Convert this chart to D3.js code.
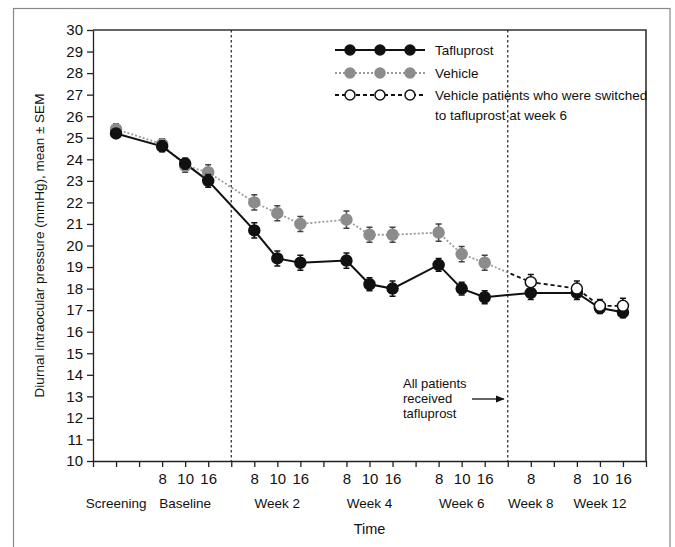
<!DOCTYPE html>
<html>
<head>
<meta charset="utf-8">
<script src="https://cdn.jsdelivr.net/npm/d3@7"></script>
<style>
  body { margin: 0; background: #fff; }
  svg text { font-family: "Liberation Sans", Arial, sans-serif; fill: #111; }
</style>
</head>
<body>
<div id="chart-area"></div>
<script>
// slots along the time axis (one per tick), blanks are gaps
const axisSlots = ["gap-a", "Screening", "gap-b", "Baseline 8", "Baseline 10", "Baseline 16", "gap-c",
  "Week 2 8", "Week 2 10", "Week 2 16", "gap-d", "Week 4 8", "Week 4 10", "Week 4 16", "gap-e",
  "Week 6 8", "Week 6 10", "Week 6 16", "gap-f", "Week 8 8", "gap-g", "Week 12 8", "Week 12 10", "Week 12 16", "gap-h"];
const tickLabels = ["", "", "", "8", "10", "16", "", "8", "10", "16", "", "8", "10", "16", "",
  "8", "10", "16", "", "8", "", "8", "10", "16", ""];
const groups = ["Screening", "Baseline", "Week 2", "Week 4", "Week 6", "Week 8", "Week 12"];
const phaseBreaks = [["Baseline 16", "Week 2 8"], ["Week 6 16", "Week 8 8"]];

const taflTimes = ["Screening", "Baseline 8", "Baseline 10", "Baseline 16", "Week 2 8", "Week 2 10", "Week 2 16",
  "Week 4 8", "Week 4 10", "Week 4 16", "Week 6 8", "Week 6 10", "Week 6 16", "Week 8 8",
  "Week 12 8", "Week 12 10", "Week 12 16"];
const taflValues = [25.2, 24.6, 23.8, 23.0, 20.7, 19.4, 19.2, 19.3, 18.2, 18.0, 19.1, 18.0, 17.6, 17.8, 17.8, 17.1, 16.9];
const taflSem = [0.2, 0.25, 0.25, 0.3, 0.35, 0.35, 0.35, 0.35, 0.3, 0.35, 0.3, 0.3, 0.3, 0.3, 0.3, 0.25, 0.25];

const vehTimes = ["Screening", "Baseline 8", "Baseline 10", "Baseline 16", "Week 2 8", "Week 2 10", "Week 2 16",
  "Week 4 8", "Week 4 10", "Week 4 16", "Week 6 8", "Week 6 10", "Week 6 16"];
const vehValues = [25.4, 24.7, 23.7, 23.4, 22.0, 21.5, 21.0, 21.2, 20.5, 20.5, 20.6, 19.6, 19.2];
const vehSem = [0.25, 0.25, 0.3, 0.35, 0.35, 0.35, 0.35, 0.4, 0.35, 0.35, 0.4, 0.35, 0.35];

const swTimes = ["Week 8 8", "Week 12 8", "Week 12 10", "Week 12 16"];
const swValues = [18.3, 18.0, 17.2, 17.2];
const swSem = [0.35, 0.35, 0.3, 0.35];

const yTicks = d3.range(10, 31);

const width = 675, height = 547;
const margin = {left: 93, top: 30, right: 29, bottom: 86};
const plotW = width - margin.left - margin.right;
const plotH = height - margin.top - margin.bottom;

const svg = d3.select("#chart-area").append("svg").attr("width", width).attr("height", height);

svg.append("rect").attr("x", 13.5).attr("y", 8.5).attr("width", 656.5).attr("height", 560)
  .attr("fill", "none").attr("stroke", "#888").attr("stroke-width", 1.2);

const g = svg.append("g").attr("transform", `translate(${margin.left},${margin.top})`);

const xLin = d3.scaleLinear().domain([0, axisSlots.length - 1]).range([0, plotW]);
const x = name => xLin(axisSlots.indexOf(name));
const y = d3.scaleLinear().domain([10, 30]).range([plotH, 0]);

// frame top / right
g.append("path").attr("d", `M0,0H${plotW}V${plotH}`).attr("fill", "none").attr("stroke", "#333").attr("stroke-width", 1.6);

// axes
const yAxis = g.append("g").call(d3.axisLeft(y).tickValues(yTicks).tickSize(6).tickSizeOuter(0).tickPadding(4));
yAxis.selectAll("text").attr("font-size", 15);
const xAxis = g.append("g").attr("transform", `translate(0,${plotH})`)
  .call(d3.axisBottom(xLin).tickValues(d3.range(axisSlots.length)).tickSize(6).tickSizeOuter(0).tickPadding(6)
    .tickFormat(i => tickLabels[i]));
xAxis.selectAll("text").attr("font-size", 15);
g.selectAll(".domain, .tick line").attr("stroke", "#222").attr("stroke-width", 1.3);

// group labels
g.selectAll(".grp").data(groups).enter().append("text")
  .attr("x", grp => d3.mean(axisSlots.map((s, i) => s === grp || s.startsWith(grp + " ") ? i : null).filter(i => i !== null), xLin))
  .attr("y", plotH + 47).attr("text-anchor", "middle").attr("font-size", 13.5).text(grp => grp);

g.append("text").attr("x", plotW / 2).attr("y", plotH + 73).attr("text-anchor", "middle").attr("font-size", 14.5).text("Time");
svg.append("text").attr("transform", `translate(44,${margin.top + plotH / 2}) rotate(-90)`)
  .attr("text-anchor", "middle").attr("font-size", 13.5).text("Diurnal intraocular pressure (mmHg), mean \u00b1 SEM");

// phase break lines
const breakX = phaseBreaks.map(([a, b]) => (x(a) + x(b)) / 2);
g.selectAll(".brk").data(breakX).enter().append("line")
  .attr("x1", d => d).attr("x2", d => d).attr("y1", 0).attr("y2", plotH)
  .attr("stroke", "#222").attr("stroke-width", 1.2).attr("stroke-dasharray", "2.5,2.5");

// annotation
const ann = g.append("text").attr("font-size", 13);
["All patients", "received", "tafluprost"].forEach((t, i) =>
  ann.append("tspan").attr("x", 310).attr("y", 358 + i * 15).text(t));
svg.append("defs").append("marker").attr("id", "arr").attr("viewBox", "0 0 10 10").attr("refX", 9).attr("refY", 5)
  .attr("markerWidth", 7).attr("markerHeight", 7).attr("orient", "auto")
  .append("path").attr("d", "M0,1L10,5L0,9Z").attr("fill", "#111");
g.append("line").attr("x1", 379).attr("x2", breakX[1] - 4).attr("y1", 369).attr("y2", 369)
  .attr("stroke", "#111").attr("stroke-width", 1.3).attr("marker-end", "url(#arr)");

// clip regions either side of second break for the vehicle -> switched link
const defs = svg.select("defs");
defs.append("clipPath").attr("id", "leftClip").append("rect").attr("x", -10).attr("y", -10).attr("width", breakX[1] + 10).attr("height", plotH + 20);
defs.append("clipPath").attr("id", "rightClip").append("rect").attr("x", breakX[1]).attr("y", -10).attr("width", plotW).attr("height", plotH + 20);

const line = d3.line().x(d => x(d.t)).y(d => y(d.v));
const toPts = (ts, vs, ss) => ts.map((t, i) => ({t: t, v: vs[i], s: ss[i]}));
const taf = toPts(taflTimes, taflValues, taflSem);
const veh = toPts(vehTimes, vehValues, vehSem);
const sw = toPts(swTimes, swValues, swSem);
const link = [veh[veh.length - 1], sw[0]];

const grey = "#8c8c8c";
g.append("path").datum(veh.concat([sw[0]])).attr("d", line).attr("clip-path", "url(#leftClip)")
  .attr("fill", "none").attr("stroke", "#9a9a9a").attr("stroke-width", 1.8).attr("stroke-dasharray", "2,2");
g.append("path").datum(link.concat(sw.slice(1))).attr("d", line).attr("clip-path", "url(#rightClip)")
  .attr("fill", "none").attr("stroke", "#111").attr("stroke-width", 1.8).attr("stroke-dasharray", "4,3");
g.append("path").datum(taf).attr("d", line).attr("fill", "none").attr("stroke", "#111").attr("stroke-width", 2);

function errBars(data, color) {
  const eb = g.append("g").attr("stroke", color).attr("stroke-width", 1.5);
  data.forEach(d => {
    const cx = x(d.t), y0 = y(d.v - d.s), y1 = y(d.v + d.s);
    eb.append("path").attr("d", `M${cx},${y0}V${y1}M${cx - 3},${y0}H${cx + 3}M${cx - 3},${y1}H${cx + 3}`);
  });
}
function dots(data, fill, stroke) {
  g.append("g").selectAll("circle").data(data).enter().append("circle")
    .attr("cx", d => x(d.t)).attr("cy", d => y(d.v)).attr("r", 5.5)
    .attr("fill", fill).attr("stroke", stroke).attr("stroke-width", 1.5);
}
errBars(veh, "#444");
dots(veh, grey, grey);
errBars(taf, "#111");
dots(taf, "#111", "#111");
errBars(sw, "#111");
dots(sw, "#fff", "#111");

// legend
const legend = svg.append("g");
const legendRows = [
  {label: ["Tafluprost"], y: 50, stroke: "#111", dash: null, fill: "#111", ms: "#111", w: 2},
  {label: ["Vehicle"], y: 73, stroke: "#9a9a9a", dash: "2,2", fill: grey, ms: grey, w: 1.8},
  {label: ["Vehicle patients who were switched", "to tafluprost at week 6"], y: 95, stroke: "#111", dash: "4,3", fill: "#fff", ms: "#111", w: 1.8}
];
legendRows.forEach(r => {
  legend.append("line").attr("x1", 335).attr("x2", 425).attr("y1", r.y).attr("y2", r.y)
    .attr("stroke", r.stroke).attr("stroke-width", r.w).attr("stroke-dasharray", r.dash);
  [350, 380, 410].forEach(cx => legend.append("circle").attr("cx", cx).attr("cy", r.y).attr("r", 5)
    .attr("fill", r.fill).attr("stroke", r.ms).attr("stroke-width", 1.5));
  r.label.forEach((t, i) => legend.append("text").attr("x", 435).attr("y", r.y + 5 + i * 20).attr("font-size", 13.5).text(t));
});
</script>
</body>
</html>
